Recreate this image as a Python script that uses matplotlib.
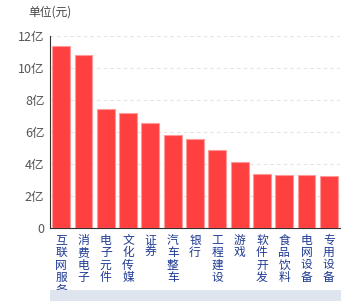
import numpy as np
import matplotlib
matplotlib.use('Agg')
import matplotlib.pyplot as plt
from matplotlib.patches import Rectangle

plt.rcParams['font.family'] = ['Noto Sans CJK SC', 'DejaVu Sans']

# 行业 / 金额(亿元)
categories = ['互联网服务', '消费电子', '电子元件', '文化传媒', '证券', '汽车整车', '银行',
              '工程建设', '游戏', '软件开发', '食品饮料', '电网设备', '专用设备']
values = [11.35, 10.8, 7.45, 7.17, 6.56, 5.81, 5.56, 4.87, 4.1, 3.35, 3.3, 3.3, 3.23]
yticks = [0, 2, 4, 6, 8, 10, 12]
ytick_labels = ['0', '2亿', '4亿', '6亿', '8亿', '10亿', '12亿']

W, H = 341, 301
fig = plt.figure(figsize=(W / 100, H / 100), dpi=100)
ax = fig.add_axes([50 / W, 1 - 228 / H, 290 / W, 192 / H])

x = np.arange(len(categories))
ax.bar(x, values, width=0.8, color='#ff4040', edgecolor='#ff9a9a', linewidth=0.8, zorder=3)

ax.set_xlim(-0.5, len(categories) - 0.5)
ax.set_ylim(0, 12)
ax.set_yticks(yticks)
ax.set_yticklabels(ytick_labels, color='#555555', fontsize=9)
ax.tick_params(axis='y', length=0, pad=4)
ax.set_xticks(x)
ax.set_xticklabels(['\n'.join(c) for c in categories], color='#1f3a93', fontsize=8.5,
                   linespacing=0.95, va='top')
ax.tick_params(axis='x', length=0, pad=4)

ax.yaxis.grid(True, linestyle=(0, (3, 3)), color='#e3e3e3', linewidth=0.8, zorder=0)
for s in ['top', 'right']:
    ax.spines[s].set_visible(False)
ax.spines['left'].set_color('#333333')
ax.spines['bottom'].set_color('#333333')

fig.text(28 / W, 1 - 12 / H, '单位(元)', color='#444444', fontsize=8.5, va='center', ha='left')

# 底部滑块
fig.patches.append(Rectangle((50 / W, 0), 291 / W, 11 / H, transform=fig.transFigure,
                             facecolor='#dfe5ee', edgecolor='none', zorder=5))

fig.savefig('out.png', dpi=100)
